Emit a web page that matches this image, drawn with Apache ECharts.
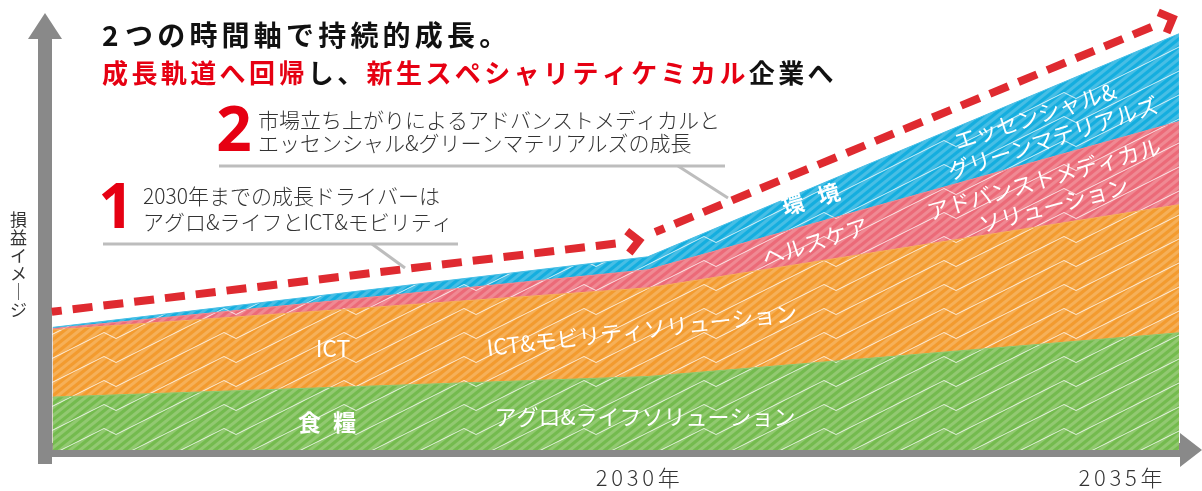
<!DOCTYPE html>
<html><head><meta charset="utf-8">
<script src="https://cdn.jsdelivr.net/npm/echarts@6/dist/echarts.min.js"></script>
<style>html,body{margin:0;padding:0;background:#fff}#c{width:1202px;height:491px}</style>
</head><body><div id="c"></div>
<script>
// ---------------- data ----------------
const years = [2024.4, 2030, 2035];
const agroLife = [12.6, 17.5, 27.9];      // 食糧 / アグロ&ライフソリューション
const ictMobility = [16.0, 21.1, 30.5];   // ICT / ICT&モビリティソリューション
const healthcare = [0.3, 4.3, 19.8];      // ヘルスケア / アドバンストメディカル
const environment = [0.3, 3.1, 20.9];     // 環境 / エッセンシャル&グリーンマテリアルズ
// growth arrows: [x0, y0, x1, y1]
const growthArrows = [[2024.39, 32.9, 2029.97, 50.0], [2030.07, 51.9, 2034.99, 103.3]];
const xTickValues = [2030, 2035];
const xTickLabels = ['2030年', '2035年'];
const yAxisTitle = '損益イメージ';
const titleLine1 = '2つの時間軸で持続的成長。';
const titleLine2 = [['成長軌道へ回帰', true], ['し、', false], ['新生スペシャリティケミカル', true], ['企業へ', false]];
const note1 = ['2030年までの成長ドライバーは', 'アグロ&ライフとICT&モビリティ'];
const note2 = ['市場立ち上がりによるアドバンストメディカルと', 'エッセンシャル&グリーンマテリアルズの成長'];

// ---------------- style ----------------
const FONT = "'Noto Sans CJK JP', 'Noto Sans', sans-serif";
const RED = '#e60012';
const AXIS = '#898989';
const pal = {
  agro:   {dark: '#74bb4e', light: '#92c971'},
  ict:    {dark: '#f39b2f', light: '#f6b058'},
  health: {dark: '#ec6a78', light: '#f08993'},
  env:    {dark: '#14aedf', light: '#47bee5'}
};

function makePattern(p) {
  const W = 120, H = 24, c = document.createElement('canvas');
  c.width = W; c.height = H;
  const ctx = c.getContext('2d');
  ctx.fillStyle = p.dark; ctx.fillRect(0, 0, W, H);
  ctx.fillStyle = p.light;
  for (let x = -60; x <= W + 60; x += 10) {
    ctx.beginPath();
    ctx.moveTo(x, 0); ctx.lineTo(x + 5, 0); ctx.lineTo(x - 25, H); ctx.lineTo(x - 30, H);
    ctx.closePath(); ctx.fill();
  }
  ctx.strokeStyle = 'rgba(255,255,255,0.8)';
  ctx.lineWidth = 1;
  const pts = [[0, 0], [104, -52], [116, -46], [120, -48]];
  for (let ox = -120; ox <= 120; ox += 120) {
    for (let oy = -24; oy <= 120; oy += 24) {
      ctx.beginPath();
      pts.forEach((q, i) => { const X = q[0] + ox, Y = q[1] + oy + 0.5; i ? ctx.lineTo(X, Y) : ctx.moveTo(X, Y); });
      ctx.stroke();
    }
  }
  return {image: c, repeat: 'repeat'};
}

// cumulative layer tops (top layer drawn first, lower layers painted over it)
const layers = [
  ['アグロ&ライフ', agroLife, pal.agro],
  ['ICT&モビリティ', ictMobility, pal.ict],
  ['ヘルスケア', healthcare, pal.health],
  ['環境', environment, pal.env]
];
const layerTops = [];
layers.forEach((l, k) => layerTops.push(l[1].map((v, i) => v + (k ? layerTops[k - 1][i] : 0))));

function areaSeries(k) {
  const p = layers[k][2];
  return {
    name: layers[k][0], type: 'line', symbol: 'none', clip: false, silent: true,
    data: years.map((y, i) => [y, +layerTops[k][i].toFixed(2)]),
    lineStyle: {width: 1, color: p.light},
    areaStyle: {color: makePattern(p), opacity: 1},
    z: 2
  };
}

// per-character spacing via rich tokens
function spaced(text, key) {
  return Array.from(text).map(ch => '{' + key + (/[ -~]/.test(ch) ? 'H' : 'F') + '|' + ch + '}').join('');
}
function richPair(key, base, full, half) {
  const o = {};
  o[key + 'F'] = Object.assign({}, base, {width: full, align: 'left'});
  o[key + 'H'] = Object.assign({}, base, {width: half, align: 'left'});
  return o;
}

const titleText = spaced(titleLine1, 'a') + '\n' +
  titleLine2.map(s => spaced(s[0], s[1] ? 'r' : 'k')).join('');
const titleRich = Object.assign({},
  richPair('a', {fontSize: 28, fontWeight: 'bold', color: '#111', lineHeight: 38, fontFamily: FONT}, 32.2, 23),
  richPair('k', {fontSize: 26, fontWeight: 'bold', color: '#111', lineHeight: 38, fontFamily: FONT}, 29.4, 18),
  richPair('r', {fontSize: 26, fontWeight: 'bold', color: RED, lineHeight: 38, fontFamily: FONT}, 29.4, 18)
);

const labelShift = [20, 117];
const xLabelRich = Object.assign({},
  richPair('x', {fontSize: 22, fontWeight: 300, color: '#333', fontFamily: FONT}, 22, 15.5),
  {p0: {width: labelShift[0], align: 'left'}, p1: {width: labelShift[1], align: 'left'}}
);

// ---------------- arrows ----------------
function renderArrow(params, api) {
  const p0 = api.coord([api.value(0), api.value(1)]);
  const p1 = api.coord([api.value(2), api.value(3)]);
  const dx = p1[0] - p0[0], dy = p1[1] - p0[1], L = Math.hypot(dx, dy);
  const ux = dx / L, uy = dy / L, nx = -uy, ny = ux;
  const v = [p1[0] - ux * 5.7, p1[1] - uy * 5.7];
  const a = 11;
  const e = [v[0] - ux * (a + 10), v[1] - uy * (a + 10)];
  const st = {stroke: '#df2a30', lineWidth: 8, fill: null};
  return {
    type: 'group', children: [
      {type: 'line', shape: {x1: p0[0], y1: p0[1], x2: e[0], y2: e[1]},
       style: Object.assign({lineDash: [20, 11], lineDashOffset: 10, lineCap: 'butt'}, st)},
      {type: 'polyline', shape: {points: [[v[0] - ux * a + nx * a, v[1] - uy * a + ny * a], v, [v[0] - ux * a - nx * a, v[1] - uy * a - ny * a]]},
       style: Object.assign({lineJoin: 'miter'}, st)}
    ]
  };
}

// ---------------- labels ----------------
const deg = d => d * Math.PI / 180;
function areaLabel(text, x, y, rotDeg, size, weight, pitch) {
  const base = {fill: '#fff', fontSize: size, fontWeight: weight || 'normal', fontFamily: FONT};
  const style = Object.assign({align: 'center', verticalAlign: 'middle'}, base);
  if (pitch) {
    style.text = spaced(text, 'L');
    style.rich = richPair('L', Object.assign({color: '#fff'}, base), pitch[0], pitch[1]);
  } else {
    style.text = text;
  }
  return {type: 'text', x, y, rotation: deg(rotDeg), z: 100, style};
}
function noteText(text, x, y) {
  return {type: 'text', x, y, z: 100,
    style: {text, fill: '#333', fontSize: 21, fontWeight: 300, fontFamily: FONT, align: 'left', verticalAlign: 'middle'}};
}
const grayLine = {stroke: '#bdbdbd', lineWidth: 3};

const option = {
  animation: false,
  textStyle: {fontFamily: FONT},
  title: {left: 102, top: 16, padding: 0, textAlign: 'left', text: titleText, textStyle: {rich: titleRich}},
  grid: {left: 38, right: 22, top: 39, bottom: 27, containLabel: false, outerBoundsMode: 'none'},
  xAxis: {
    type: 'value', min: 2024.26, max: 2035.01, offset: -7,
    axisLine: {lineStyle: {color: AXIS, width: 14, cap: 'butt'}, symbol: ['none', 'triangle'], symbolSize: [34, 22], symbolOffset: [0, 11]},
    axisTick: {show: false}, splitLine: {show: false},
    axisLabel: {
      customValues: xTickValues, margin: 10, hideOverlap: false,
      formatter: v => { const i = xTickValues.indexOf(v); return spaced(xTickLabels[i], 'x') + '{p' + i + '| }'; },
      rich: xLabelRich
    }
  },
  yAxis: {
    type: 'value', min: -3.333, max: 97.857, offset: -7,
    axisLine: {lineStyle: {color: AXIS, width: 14, cap: 'butt'}, symbol: ['none', 'triangle'], symbolSize: [34, 26], symbolOffset: [0, 13]},
    axisTick: {show: false}, splitLine: {show: false}, axisLabel: {show: false}
  },
  series: [
    areaSeries(3), areaSeries(2), areaSeries(1), areaSeries(0),
    {type: 'custom', coordinateSystem: 'cartesian2d', clip: false, z: 10, silent: true,
     dimensions: ['x0', 'y0', 'x1', 'y1'], encode: {x: [0, 2], y: [1, 3]},
     data: growthArrows, renderItem: renderArrow}
  ],
  graphic: [
    {type: 'text', x: 18.5, y: 265, z: 100, style: {
      text: Array.from(yAxisTitle).map(c => c === 'ー' ? '｜' : c).join('\n'),
      fill: '#333', fontSize: 17, lineHeight: 18, fontFamily: FONT, align: 'center', verticalAlign: 'middle'}},
    {type: 'polyline', z: 50, shape: {points: [[219, 166], [725, 166]]}, style: grayLine},
    {type: 'line', z: 50, shape: {x1: 678, y1: 166, x2: 728, y2: 198}, style: grayLine},
    {type: 'polyline', z: 50, shape: {points: [[103, 244], [458, 244]]}, style: grayLine},
    {type: 'line', z: 50, shape: {x1: 372, y1: 244, x2: 405, y2: 268}, style: grayLine},
    {type: 'text', x: 234, y: 133, z: 100, style: {text: '2', fill: RED, fontSize: 62, fontWeight: 'bold', fontFamily: "'Noto Sans', sans-serif", align: 'center', verticalAlign: 'middle'}},
    {type: 'text', x: 116, y: 210, z: 100, style: {text: '1', fill: RED, fontSize: 62, fontWeight: 'bold', fontFamily: "'Noto Sans', sans-serif", align: 'center', verticalAlign: 'middle'}},
    noteText(note2[0], 258, 120), noteText(note2[1], 258, 143.5),
    noteText(note1[0], 143, 196.5), noteText(note1[1], 143, 222.5),
    areaLabel('食糧', 333, 422, 0, 23, 'bold', [35, 12]),
    areaLabel('ICT', 333, 348, 0, 23),
    areaLabel('アグロ&ライフソリューション', 645, 417, 0, 22),
    areaLabel('ICT&モビリティソリューション', 642, 330, 6.5, 22),
    areaLabel('ヘルスケア', 815, 242, 18, 22),
    areaLabel('環境', 818, 197, 17, 22, 'bold', [37, 12]),
    areaLabel('アドバンストメディカル', 1044, 179, 16, 22),
    areaLabel('ソリューション', 1054, 205, 15, 22),
    areaLabel('エッセンシャル&', 1035, 116, 18, 22),
    areaLabel('グリーンマテリアルズ', 1053, 138, 18, 22)
  ]
};
const chart = echarts.init(document.getElementById('c'));
chart.setOption(option);
</script></body></html>
